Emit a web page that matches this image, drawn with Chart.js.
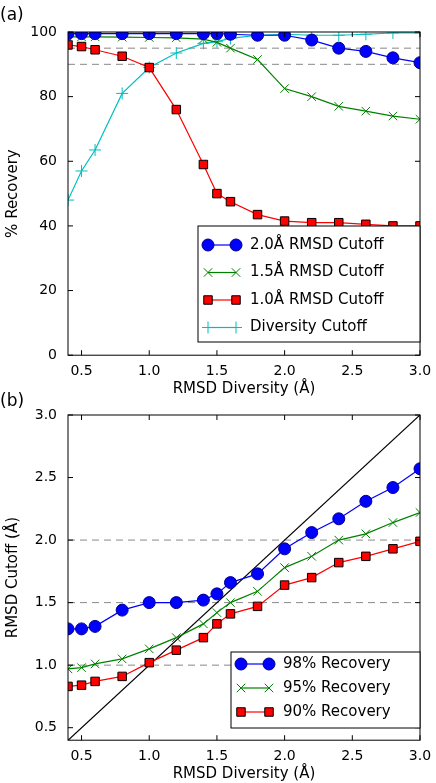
<!DOCTYPE html>
<html><head><meta charset="utf-8">
<script src="https://cdn.jsdelivr.net/npm/chart.js@4"></script>
<style>
body{margin:0;background:#fff;width:436px;height:783px;position:relative;overflow:hidden;font-family:"DejaVu Sans"}
.w{position:absolute;left:0;width:436px}
.lab{position:absolute;left:0;font:17px "DejaVu Sans"}
</style></head><body>
<div class="w" style="top:0;height:402px"><canvas id="ca"></canvas></div>
<div class="w" style="top:392px;height:395px"><canvas id="cb"></canvas></div>
<div class="lab" style="top:4px">(a)</div>
<div class="lab" style="top:390px">(b)</div>
<script>
const diversity = [0.4,0.5,0.6,0.8,1.0,1.2,1.4,1.5,1.6,1.8,2.0,2.2,2.4,2.6,2.8,3.0];
// panel (a): % recovery
const rec20 = [99.5,99.5,99.5,99.5,99.5,99.5,99.5,99.5,99.3,99,99,97.5,95,94,92,90.5];
const rec15 = [98.5,98.5,98.5,98.4,98.3,98.2,97.8,96.8,95,91.5,82.5,80,77,75.5,74,73];
const rec10 = [96,95.5,94.5,92.5,89,76,59,50,47.5,43.5,41.5,41,41,40.5,40,40];
const recDiv = [48,57,63.5,81,89,93.5,96.5,97,98,99,99.3,99,99,99.3,99.7,99.7];
// panel (b): cutoff needed
const cut98 = [1.29,1.29,1.31,1.44,1.50,1.50,1.52,1.57,1.66,1.73,1.93,2.06,2.17,2.31,2.42,2.57];
const cut95 = [0.97,0.98,1.01,1.05,1.13,1.22,1.33,1.42,1.50,1.59,1.78,1.87,2.00,2.05,2.14,2.22];
const cut90 = [0.83,0.84,0.87,0.91,1.02,1.12,1.22,1.33,1.41,1.47,1.64,1.70,1.82,1.87,1.93,1.99];
const xTicks = [0.5,1.0,1.5,2.0,2.5,3.0];
const yTicksA = [0,20,40,60,80,100];
const yTicksB = [0.5,1.0,1.5,2.0,2.5,3.0];
const refA = [90,95];
const refB = [1.0,1.5,2.0];

Chart.defaults.font.family = 'DejaVu Sans';
Chart.defaults.color = '#000';
const pts = ys => diversity.map((x,i)=>({x, y: ys[i]}));
const ser = (label, ys, color, style, border) => ({label, data: pts(ys), borderColor: color,
  backgroundColor: color, pointStyle: style, pointRadius: 6, pointBorderColor: border||color,
  pointBorderWidth: 1, borderWidth: 1.2, showLine: true});
const hline = (y, x0, x1) => ({label:'_', data:[{x:x0,y},{x:x1,y}], borderColor:'#888', borderDash:[7,5],
  borderWidth:1, pointRadius:0, showLine:true});

const frame = {id:'frame', afterDraw(c){
  const a=c.chartArea, x=c.ctx; x.save(); x.strokeStyle='#000'; x.lineWidth=1;
  x.strokeRect(a.left,a.top,a.right-a.left,a.bottom-a.top);
  // inward ticks
  const sx=c.scales.x, sy=c.scales.y;
  sx.ticks.forEach(t=>{const p=sx.getPixelForValue(t.value);x.beginPath();
    x.moveTo(p,a.bottom);x.lineTo(p,a.bottom-5);x.moveTo(p,a.top);x.lineTo(p,a.top+5);x.stroke();});
  sy.ticks.forEach(t=>{const p=sy.getPixelForValue(t.value);x.beginPath();
    x.moveTo(a.left,p);x.lineTo(a.left+5,p);x.moveTo(a.right,p);x.lineTo(a.right-5,p);x.stroke();});
  // legend box
  const L=c.options.plugins.boxLegend; if(!L){x.restore();return;}
  x.fillStyle='#fff'; x.fillRect(L.x,L.y,L.w,L.h); x.strokeRect(L.x,L.y,L.w,L.h);
  x.font='15px "DejaVu Sans"'; x.textBaseline='middle';
  L.items.forEach((i,k)=>{const ds=c.data.datasets[i], yy=L.y+L.top+k*L.gap;
    x.strokeStyle=ds.borderColor; x.lineWidth=1.2; x.beginPath(); x.moveTo(L.x+10,yy); x.lineTo(L.x+38,yy); x.stroke();
    [L.x+10,L.x+38].forEach(px=>{x.fillStyle=ds.backgroundColor; x.strokeStyle=ds.pointBorderColor; x.lineWidth=1;
      Chart.helpers.drawPoint(x,{pointStyle:ds.pointStyle,radius:ds.pointRadius,borderWidth:1},px,yy);});
    x.fillStyle='#000'; x.fillText(ds.label,L.x+52,yy);});
  x.restore();}};

function axes(ymin,ymax,yt,ytitle){
  return {
    x:{type:'linear',min:0.4,max:3.0,afterBuildTicks:s=>{s.ticks=xTicks.map(v=>({value:v}))},
       grid:{display:false},border:{display:false},
       ticks:{font:{size:14},callback:v=>v.toFixed(1),padding:0},
       title:{display:true,text:'RMSD Diversity (Å)',font:{size:15},padding:{top:0}}},
    y:{min:ymin,max:ymax,afterBuildTicks:s=>{s.ticks=yt.map(v=>({value:v}))},
       grid:{display:false},border:{display:false},
       ticks:{font:{size:14},callback:v=>ymax>10?v:v.toFixed(1)},
       afterFit:s=>{s.width=68},
       title:{display:true,text:ytitle,font:{size:15},padding:{bottom:2}}}};
}

const dsA = [ser('2.0Å RMSD Cutoff',rec20,'#0000ff','circle','#00008b'),
  ser('1.5Å RMSD Cutoff',rec15,'#008000','crossRot'),
  ser('1.0Å RMSD Cutoff',rec10,'#ff0000','rect','#000'),
  ser('Diversity Cutoff',recDiv,'#00bfbf','cross'),
  ...refA.map(y=>hline(y,0.4,3.0))];
const dsB = [ser('98% Recovery',cut98,'#0000ff','circle','#00008b'),
  ser('95% Recovery',cut95,'#008000','crossRot'),
  ser('90% Recovery',cut90,'#ff0000','rect','#000'),
  {label:'_',data:[{x:0.4,y:0.4},{x:3.0,y:3.0}],borderColor:'#000',borderWidth:1.2,pointRadius:0,showLine:true},
  ...refB.map(y=>hline(y,0.4,3.0))];

function make(id,ds,ymin,ymax,yt,yt2,leg,pad){
  ds.forEach((d,i)=>{d.order = d.label==='_'?10:i;});
  return new Chart(document.getElementById(id),{type:'scatter',data:{datasets:ds},
    options:{responsive:true,maintainAspectRatio:false,animation:false,
      layout:{padding:pad},
      plugins:{legend:{display:false},tooltip:{enabled:false},boxLegend:leg},
      scales:axes(ymin,ymax,yt,yt2)},plugins:[frame]});
}

make('ca',dsA,0,100,yTicksA,'% Recovery',
  {x:198,y:226,w:222,h:116,top:19,gap:27.5,items:[0,1,2,3]},{top:32,right:16,bottom:0});
make('cb',dsB,0.4,3.0,yTicksB,'RMSD Cutoff (Å)',
  {x:231,y:260,w:189,h:76,top:12,gap:24,items:[0,1,2]},{top:23,right:16,bottom:0});
</script></body></html>
